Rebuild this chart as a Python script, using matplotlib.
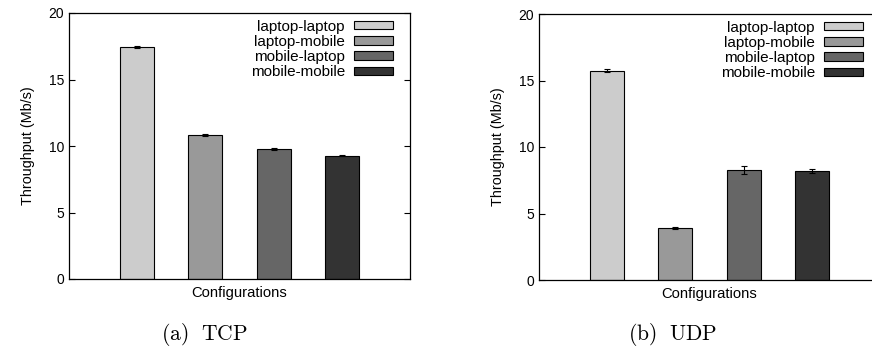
import numpy as np
import matplotlib
matplotlib.use('Agg')
import matplotlib.pyplot as plt

configs = ['laptop-laptop', 'laptop-mobile', 'mobile-laptop', 'mobile-mobile']
colors = ['#cccccc', '#999999', '#666666', '#333333']

tcp_vals = [17.45, 10.8, 9.78, 9.28]
tcp_err = [0.1, 0.07, 0.05, 0.04]
udp_vals = [15.75, 3.9, 8.27, 8.2]
udp_err = [0.1, 0.1, 0.3, 0.13]

plt.rcParams['font.family'] = ['Liberation Sans', 'DejaVu Sans']
plt.rcParams['mathtext.fontset'] = 'cm'

W, H = 872, 347
fig = plt.figure(figsize=(W / 100, H / 100), dpi=100)

def panel(left_px, top_px, vals, errs, caption, cap_x):
    ax = fig.add_axes([left_px / W, (H - top_px - 266) / H, 341 / W, 266 / H])
    x = np.arange(1, len(vals) + 1)
    for i in range(len(vals)):
        ax.bar(x[i], vals[i], width=0.5, color=colors[i], edgecolor='black',
               linewidth=0.8, label=configs[i],
               yerr=errs[i], capsize=2, error_kw=dict(elinewidth=0.8, capthick=0.8, ecolor='black'))
    ax.set_xlim(0, 5)
    ax.set_ylim(0, 20)
    ax.set_yticks([0, 5, 10, 15, 20])
    ax.set_xticks([])
    ax.tick_params(axis='y', direction='in', right=True, labelsize=10, length=4, width=0.8)
    for s in ax.spines.values():
        s.set_linewidth(0.9)
    ax.set_xlabel('Configurations', fontsize=10.6, labelpad=5)
    ax.set_ylabel('Throughput (Mb/s)', fontsize=10.4, labelpad=10)
    ax.legend(loc='upper right', bbox_to_anchor=(0.968, 0.998), frameon=False,
              markerfirst=False, fontsize=11,
              handlelength=2.55, handleheight=0.46, labelspacing=0.08,
              handletextpad=0.6, borderaxespad=0, borderpad=0.4)
    fig.text(cap_x / W, 0.035, caption, ha='center', va='center', fontsize=15.5)
    return ax

panel(69, 13, tcp_vals, tcp_err, r'$\mathrm{(a)\ \ TCP}$', 204)
panel(539, 14, udp_vals, udp_err, r'$\mathrm{(b)\ \ UDP}$', 673)

fig.savefig('out.png', dpi=100)
